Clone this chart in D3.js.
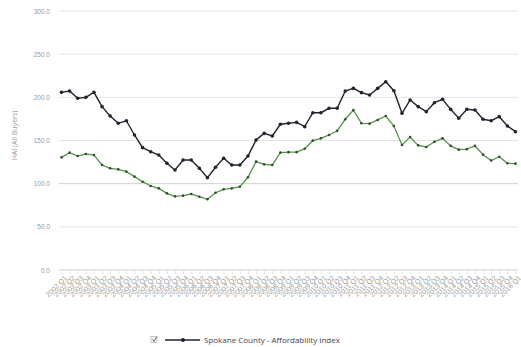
<!DOCTYPE html>
<html>
<head>
<meta charset="utf-8">
<script src="https://cdn.jsdelivr.net/npm/d3@7"></script>
<style>
  body { margin: 0; background: #fff; }
  svg { display: block; font-family: "Open Sans", "DejaVu Sans", sans-serif; }
</style>
</head>
<body>
<div id="chart"></div>
<script>
const width = 521;
const height = 347;

// quarterly periods, 2002 Q1 .. 2016 Q1
const years = [2002, 2003, 2004, 2005, 2006, 2007, 2008, 2009, 2010, 2011, 2012, 2013, 2014, 2015, 2016];
const quarters = ["Q1", "Q2", "Q3", "Q4"];
const periods = [];
years.forEach(function (y) {
    quarters.forEach(function (q) {
        if (periods.length < 57) periods.push(y + " " + q);
    });
});

const countyIndex = [
    205.8, 207.3, 198.9, 200.0, 205.8, 189.2, 178.4, 169.9, 172.9, 156.4,
    141.7, 137.0, 133.2, 123.6, 115.8, 127.4, 127.4, 117.8, 106.9, 119.0,
    129.4, 121.6, 121.6, 132.0, 150.6, 158.3, 155.2, 168.8, 170.0, 171.0,
    166.0, 182.2, 182.2, 187.3, 187.3, 207.3, 210.4, 205.4, 202.7, 210.4,
    218.1, 207.7, 181.5, 196.9, 189.2, 183.4, 193.8, 197.7, 186.1, 175.7,
    186.1, 185.3, 174.6, 172.9, 177.6, 166.8, 160.2
];
const secondIndex = [
    130.5, 135.9, 132.0, 134.4, 133.2, 121.6, 117.8, 116.6, 113.9, 108.1,
    102.3, 97.3, 94.6, 88.8, 85.3, 86.1, 88.0, 84.9, 81.9, 89.5,
    93.5, 94.6, 96.5, 107.4, 125.5, 122.4, 121.6, 136.0, 136.5, 136.5,
    140.5, 149.8, 152.5, 156.4, 161.2, 174.6, 185.3, 169.9, 169.5, 173.8,
    178.4, 166.8, 144.8, 154.0, 144.4, 142.5, 148.6, 152.5, 143.8, 139.4,
    140.0, 143.8, 133.6, 126.8, 131.2, 123.6, 123.2
];
const yTicks = [0, 50, 100, 150, 200, 250, 300];
const legendLabel = "Spokane County - Affordability Index";
const yTitle = "HAI (All Buyers)";

const margin = { top: 11, right: 3, bottom: 77, left: 61 };
const innerW = width - margin.left - margin.right;
const innerH = height - margin.top - margin.bottom;

const svg = d3.select("#chart").append("svg")
    .attr("width", width)
    .attr("height", height);

const g = svg.append("g")
    .attr("transform", "translate(" + margin.left + "," + margin.top + ")");

const x = d3.scalePoint().domain(periods).range([0.5, innerW - 2.5]);
const y = d3.scaleLinear().domain([0, 300]).range([innerH, 0]);

// grid lines
g.selectAll(".grid").data(yTicks).enter().append("line")
    .attr("class", "grid")
    .attr("x1", -2).attr("x2", innerW)
    .attr("y1", function (d) { return y(d); })
    .attr("y2", function (d) { return y(d); })
    .style("stroke", function (d) { return d == 100 || d == 0 ? "#d0d0d0" : "#e4e4e4"; })
    .style("stroke-width", 1);

// y axis labels
const yAxis = d3.axisLeft(y).tickValues(yTicks).tickSize(0).tickPadding(11)
    .tickFormat(d3.format(".1f"));
g.append("g").call(yAxis)
    .call(function (sel) { sel.select(".domain").remove(); })
    .selectAll("text")
    .style("font-size", "6.5px")
    .style("fill", "#9a9a9a");

// x axis with rotated labels
const xAxis = d3.axisBottom(x).tickSize(3).tickPadding(2);
const xg = g.append("g")
    .attr("transform", "translate(0," + (innerH + 1) + ")")
    .call(xAxis);
xg.select(".domain").remove();
xg.selectAll("line").style("stroke", "#e0e0e0");
xg.selectAll("text")
    .style("font-size", "7px")
    .style("fill", "#999")
    .attr("text-anchor", "end")
    .attr("dx", "-0.2em")
    .attr("dy", "0.6em")
    .attr("transform", "rotate(-45)");

// y title
svg.append("text")
    .attr("transform", "translate(17," + (margin.top + innerH / 2 - 5) + ") rotate(-90)")
    .attr("text-anchor", "middle")
    .style("font-size", "7px")
    .style("fill", "#999")
    .text(yTitle);

var line = d3.line()
    .x(function (d, i) { return x(periods[i]); })
    .y(function (d) { return y(d); });

// green series
g.append("path")
    .datum(secondIndex)
    .attr("d", line)
    .style("fill", "none")
    .style("stroke", "#55954a")
    .style("stroke-width", 1.3);
g.selectAll(".dot2").data(secondIndex).enter().append("circle")
    .attr("class", "dot2")
    .attr("cx", function (d, i) { return x(periods[i]); })
    .attr("cy", function (d) { return y(d); })
    .attr("r", 1.3)
    .style("fill", "#2f4f2a");

// black series
g.append("path")
    .datum(countyIndex)
    .attr("d", line)
    .style("fill", "none")
    .style("stroke", "#22232e")
    .style("stroke-width", 1.4);
g.selectAll(".dot1").data(countyIndex).enter().append("circle")
    .attr("class", "dot1")
    .attr("cx", function (d, i) { return x(periods[i]); })
    .attr("cy", function (d) { return y(d); })
    .attr("r", 1.8)
    .style("fill", "#22232e");

// legend
var lg = svg.append("g").attr("transform", "translate(0,340)");
lg.append("rect")
    .attr("x", 151).attr("y", -3.5).attr("width", 6).attr("height", 6)
    .style("fill", "#fff").style("stroke", "#aaa").style("stroke-width", 0.7);
lg.append("path")
    .attr("d", "M152.5,-0.5 L154,1.5 L156.5,-3")
    .style("fill", "none").style("stroke", "#555").style("stroke-width", 1);
lg.append("line")
    .attr("x1", 165).attr("x2", 200).attr("y1", 0).attr("y2", 0)
    .style("stroke", "#22232e").style("stroke-width", 1.4);
lg.append("circle")
    .attr("cx", 183).attr("cy", 0).attr("r", 2)
    .style("fill", "#22232e");
lg.append("text")
    .attr("x", 204).attr("y", 3)
    .style("font-size", "8px")
    .style("fill", "#444")
    .text(legendLabel);
</script>
</body>
</html>
